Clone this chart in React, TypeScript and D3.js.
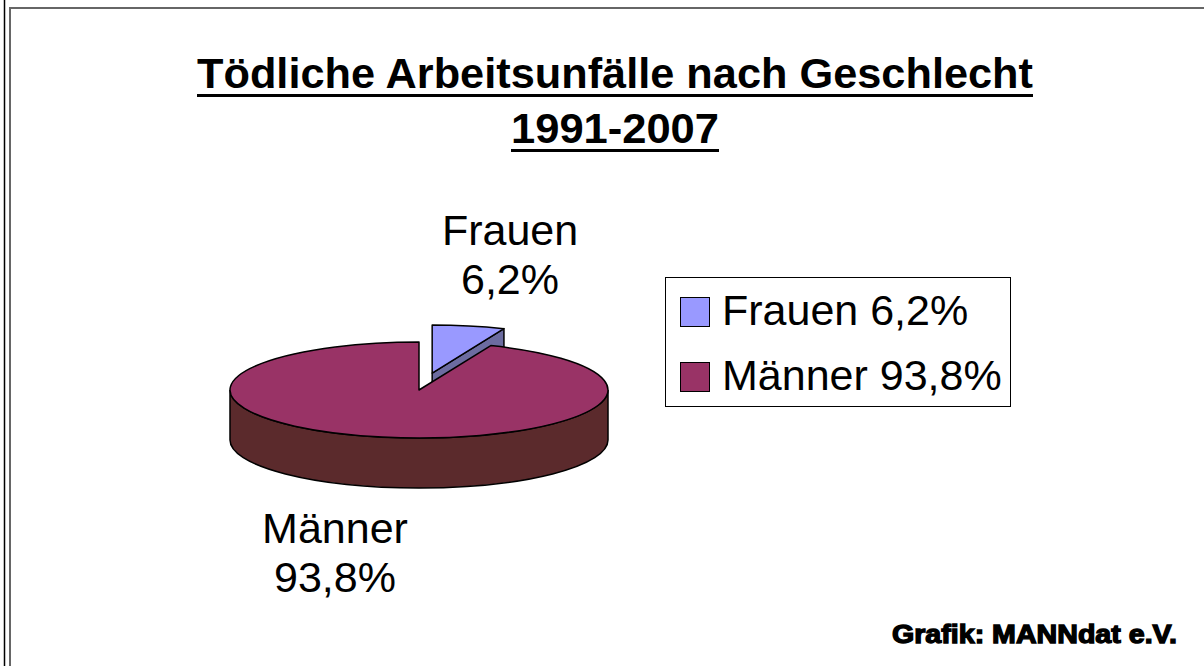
import React, { useEffect, useRef } from "react";
import * as d3 from "d3";

const categories = ["Frauen", "Männer"];
const shares = [6.2, 93.8];
const shareLabels = ["6,2%", "93,8%"];
const topColors = ["#9999FF", "#993366"];
const sideColors = ["#6c6ca0", "#5b2a2c"];
const exploded = [true, false];

const titleLines = ["Tödliche Arbeitsunfälle nach Geschlecht", "1991-2007"];
const credit = "Grafik: MANNdat e.V.";

export default function App() {
  const svgRef = useRef<SVGSVGElement>(null);

  useEffect(() => {
    const svg = d3.select(svgRef.current);
    svg.selectAll("*").remove();

    const width = 1204, height = 666;
    svg.attr("width", width).attr("height", height);

    svg.append("rect").attr("width", width).attr("height", height).attr("fill", "#fff");

    // frame lines
    svg.append("line").attr("x1", 4.5).attr("x2", 4.5).attr("y1", 0).attr("y2", height)
      .attr("stroke", "#000").attr("stroke-width", 1.5);
    svg.append("path").attr("d", `M10,${height} L10,8 L${width},8`)
      .attr("fill", "none").attr("stroke", "#666").attr("stroke-width", 2);

    // title
    const title = svg.append("g").attr("font-family", "'Liberation Sans Narrow', 'Liberation Sans', Arial, sans-serif")
      .attr("font-weight", "bold").attr("fill", "#000");
    const titleSpec = [
      { y: 88, len: 836, uy: 94 },
      { y: 143, len: 208, uy: 149 },
    ];
    titleLines.forEach((t, i) => {
      const s = titleSpec[i];
      title.append("text")
        .attr("x", 615).attr("y", s.y)
        .attr("text-anchor", "middle")
        .attr("font-size", 43)
        .attr("textLength", s.len)
        .attr("lengthAdjust", "spacingAndGlyphs")
        .text(t);
      title.append("rect")
        .attr("x", 615 - s.len / 2).attr("y", s.uy)
        .attr("width", s.len).attr("height", 3)
        .attr("fill", "#000");
    });

    // 3D pie
    const cx = 419, cy = 390, rx = 189, ry = 48, depth = 50, explode = 0.36;
    const arcs = d3.pie<number>().sort(null).startAngle(0).endAngle(2 * Math.PI)(shares);
    const arc = d3.arc<d3.PieArcDatum<number>>().innerRadius(0).outerRadius(rx);

    const pieG = svg.append("g");
    const pt = (a: number, dy: number, ox: number, oy: number) =>
      [cx + ox + rx * Math.sin(a), cy + oy - ry * Math.cos(a) + dy];

    const order = d3.range(arcs.length).sort((a, b) => (exploded[b] ? 1 : 0) - (exploded[a] ? 1 : 0));

    order.forEach(i => {
      const d = arcs[i];
      const mid = (d.startAngle + d.endAngle) / 2;
      const ox = exploded[i] ? explode * rx * Math.sin(mid) : 0;
      const oy = exploded[i] ? -explode * ry * Math.cos(mid) : 0;
      const g = pieG.append("g");

      // cut face at end angle (faces the viewer when end angle is in the right-front quadrant)
      if (exploded[i]) {
        const p0 = [cx + ox, cy + oy];
        const p1 = pt(d.endAngle, 0, ox, oy);
        g.append("path")
          .attr("d", `M${p0[0]},${p0[1]} L${p1[0]},${p1[1]} L${p1[0]},${p1[1] + depth} L${p0[0]},${p0[1] + depth} Z`)
          .attr("fill", sideColors[i]).attr("stroke", "#000").attr("stroke-width", 1.5)
          .attr("stroke-linejoin", "round");
      }

      // outer wall, visible front half only
      const s = Math.max(d.startAngle, Math.PI / 2);
      const e = Math.min(d.endAngle, 3 * Math.PI / 2);
      if (e > s) {
        const a = pt(s, 0, ox, oy), b = pt(e, 0, ox, oy);
        const large = e - s > Math.PI ? 1 : 0;
        g.append("path")
          .attr("d", `M${a[0]},${a[1]} A${rx},${ry} 0 ${large} 1 ${b[0]},${b[1]} L${b[0]},${b[1] + depth} A${rx},${ry} 0 ${large} 0 ${a[0]},${a[1] + depth} Z`)
          .attr("fill", sideColors[i]).attr("stroke", "#000").attr("stroke-width", 1.5);
      }

      // top face
      g.append("path")
        .attr("d", arc(d))
        .attr("transform", `translate(${cx + ox},${cy + oy}) scale(1,${ry / rx})`)
        .attr("fill", topColors[i])
        .attr("stroke", "#000").attr("stroke-width", 1.5)
        .attr("vector-effect", "non-scaling-stroke")
        .attr("stroke-linejoin", "round");
    });

    // data labels
    const labelPos = [
      { x: 510, y: 245 },
      { x: 335, y: 543 },
    ];
    const labels = svg.append("g").attr("font-family", "'Liberation Sans', Arial, sans-serif")
      .attr("font-size", 43).attr("fill", "#000").attr("text-anchor", "middle");
    categories.forEach((c, i) => {
      labels.append("text").attr("x", labelPos[i].x).attr("y", labelPos[i].y).text(c);
      labels.append("text").attr("x", labelPos[i].x).attr("y", labelPos[i].y + 49).text(shareLabels[i]);
    });

    // legend
    const legend = svg.append("g");
    legend.append("rect")
      .attr("x", 665.5).attr("y", 277.5).attr("width", 345).attr("height", 129)
      .attr("fill", "#fff").attr("stroke", "#000").attr("stroke-width", 1);
    const ly = d3.scalePoint<string>().domain(categories).range([325, 390]);
    categories.forEach((c, i) => {
      const y = ly(c)!;
      legend.append("rect")
        .attr("x", 680.5).attr("y", y - 27.5).attr("width", 29).attr("height", 29)
        .attr("fill", topColors[i]).attr("stroke", "#000").attr("stroke-width", 1);
      legend.append("text")
        .attr("x", 722).attr("y", y)
        .attr("font-family", "'Liberation Sans', Arial, sans-serif")
        .attr("font-size", 43).attr("fill", "#000")
        .text(`${c} ${shareLabels[i]}`);
    });

    // credit
    svg.append("text")
      .attr("x", 892).attr("y", 643)
      .attr("font-family", "'Liberation Sans', Arial, sans-serif")
      .attr("font-weight", "bold").attr("font-size", 25)
      .attr("stroke", "#000").attr("stroke-width", 1.3)
      .attr("textLength", 285).attr("lengthAdjust", "spacingAndGlyphs")
      .text(credit);
  }, []);

  return <svg ref={svgRef} style={{ position: "absolute", left: 0, top: 0, display: "block" }}></svg>;
}
